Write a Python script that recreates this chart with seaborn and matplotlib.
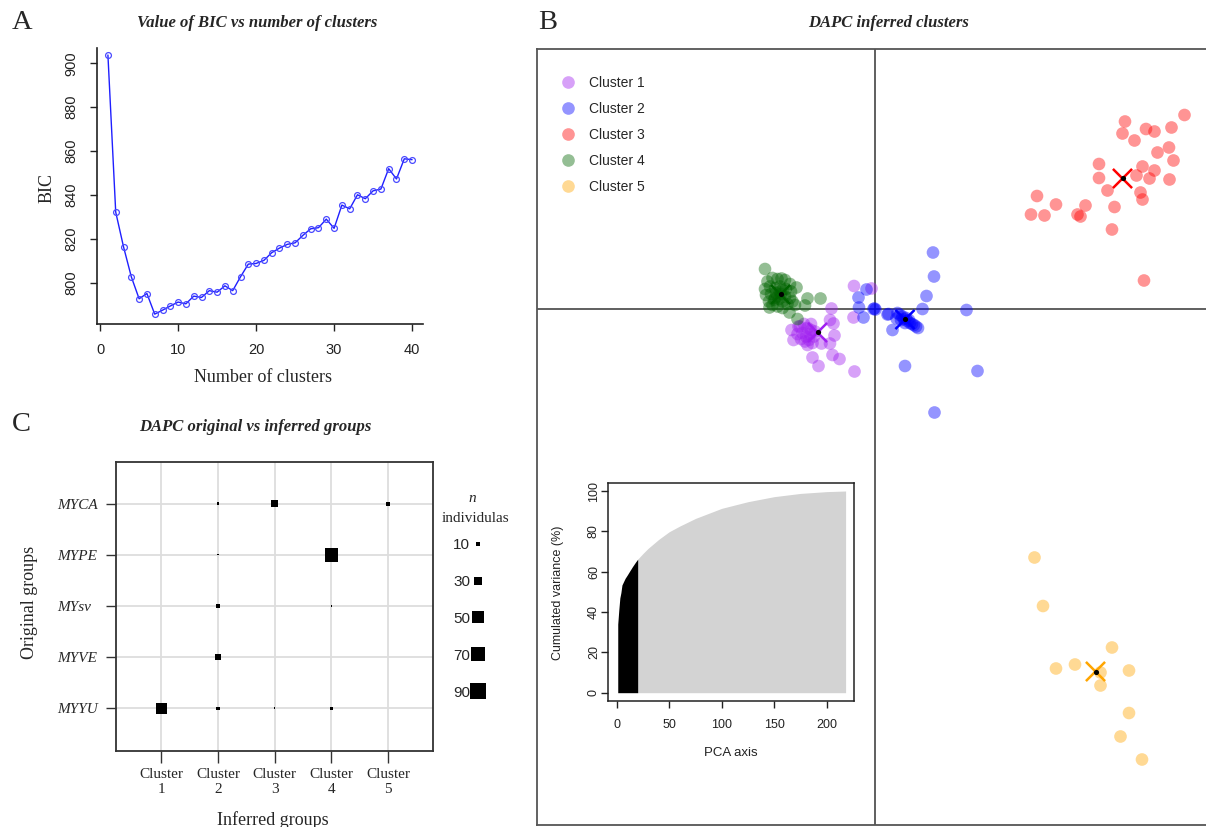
import numpy as np
import pandas as pd
import matplotlib
matplotlib.use("Agg")
import matplotlib.pyplot as plt
from matplotlib.lines import Line2D
import seaborn as sns

# ---------------- data ----------------
# Panel A: BIC vs number of clusters
n_clusters = [1, 2, 3, 4, 5, 6, 7, 8, 9, 10, 11, 12, 13, 14, 15, 16, 17, 18, 19, 20,
              21, 22, 23, 24, 25, 26, 27, 28, 29, 30, 31, 32, 33, 34, 35, 36, 37, 38, 39, 40]
bic = [903.8, 832.2, 816.4, 802.7, 792.7, 795.1, 785.7, 787.5, 789.4, 791.2,
       790.4, 793.9, 793.3, 796.4, 795.7, 798.6, 796.4, 802.7, 808.5, 808.8,
       810.2, 813.7, 815.8, 817.5, 818.2, 821.6, 824.6, 825.1, 829.0, 824.8,
       835.4, 833.7, 840.1, 838.3, 841.9, 842.7, 852.0, 847.3, 856.5, 856.1]

# Panel B: DAPC scatter (discriminant functions 1 and 2)
cluster_labels = ["Cluster 1", "Cluster 2", "Cluster 3", "Cluster 4", "Cluster 5"]
cluster_colors = ["#A020F0", "#0000FF", "#FF0000", "#006400", "#FFA500"]

c1_ld1 = [-0.42, -0.07, -0.43, -0.87, -0.90, -0.83, -0.81, -1.67, -1.63, -1.07, -0.90,
          -1.25, -1.13, -0.85, -0.71, -0.41, -1.53, -1.50, -1.42, -1.35, -1.28, -1.45,
          -1.38, -1.30, -1.22, -1.48, -1.40, -1.32, -1.25, -1.35, -1.20, -1.55, -1.28]
c1_ld2 = [0.46, 0.41, -0.17, 0.01, -0.22, -0.29, -0.53, -0.42, -0.62, -0.69, -0.69,
          -0.97, -1.14, -0.92, -1.00, -1.25, -0.35, -0.35, -0.30, -0.38, -0.42, -0.48,
          -0.55, -0.50, -0.55, -0.60, -0.65, -0.62, -0.68, -0.72, -0.45, -0.50, -0.30]

c2_ld1 = [1.16, 1.18, 1.03, 0.95, 1.83, -0.17, -0.33, -0.32, -0.23, -0.03, -0.01,
          0.01, 0.25, 0.27, 0.43, 0.35, 0.60, 2.05, 1.19, 0.45, 0.50, 0.55,
          0.58, 0.62, 0.65, 0.68, 0.70, 0.74, 0.78, 0.82, 0.86, 0.60, 0.52]
c2_ld2 = [1.13, 0.65, 0.26, 0.00, -0.02, 0.39, 0.23, 0.03, -0.17, 0.00, 0.01,
          -0.01, -0.11, -0.10, -0.19, -0.42, -1.14, -1.24, -2.07, -0.08, -0.12, -0.15,
          -0.20, -0.18, -0.24, -0.22, -0.28, -0.30, -0.32, -0.35, -0.38, -0.28, -0.22]

c3_ld1 = [6.19, 5.00, 4.95, 5.42, 5.59, 5.93, 5.19, 5.65, 5.88, 5.97,
          4.48, 5.35, 5.59, 5.23, 5.49, 5.89, 4.48, 4.65, 5.31, 5.35,
          4.79, 3.24, 3.62, 3.12, 3.39, 4.21, 4.05, 4.11, 4.74, 5.38]
c3_ld2 = [3.88, 3.75, 3.51, 3.60, 3.55, 3.63, 3.37, 3.13, 3.23, 2.97,
          2.90, 2.85, 2.77, 2.67, 2.61, 2.59, 2.62, 2.37, 2.33, 2.19,
          2.04, 2.26, 2.09, 1.89, 1.87, 2.07, 1.89, 1.85, 1.59, 0.57]

c4_ld1 = [-2.20, -1.87, -1.57, -1.35, -1.09, -1.40, -2.11, -1.60, -1.71, -1.55,
          -2.15, -2.05, -1.95, -1.80, -1.70, -2.20, -2.10, -2.00, -1.90, -1.78,
          -1.68, -2.18, -2.08, -1.98, -1.88, -1.80, -1.70, -2.12, -2.02, -1.92,
          -1.85, -1.75, -2.05, -1.95, -1.85, -1.65, -1.90, -1.95, -1.85, -2.00]
c4_ld2 = [0.80, 0.61, 0.43, 0.21, 0.21, 0.07, 0.03, 0.08, -0.07, -0.20,
          0.55, 0.62, 0.60, 0.58, 0.50, 0.40, 0.45, 0.42, 0.45, 0.40,
          0.35, 0.28, 0.30, 0.32, 0.30, 0.25, 0.22, 0.15, 0.18, 0.20,
          0.15, 0.10, 0.08, 0.05, 0.02, 0.15, 0.35, 0.25, 0.38, 0.22]

c5_ld1 = [3.19, 3.36, 4.74, 3.62, 4.00, 4.51, 4.51, 5.08, 5.08, 4.91, 5.34]
c5_ld2 = [-4.97, -5.94, -6.77, -7.19, -7.11, -7.27, -7.53, -7.23, -8.08, -8.55, -9.01]

centroid_ld1 = [-1.15, 0.60, 4.95, -1.89, 4.41]
centroid_ld2 = [-0.47, -0.21, 2.61, 0.29, -7.25]

# Inset: cumulated variance of PCA axes
pca_axis = [1, 2, 3, 4, 5, 6, 8, 10, 12, 15, 18, 20,
            25, 30, 40, 50, 60, 75, 100, 125, 150, 175, 200, 218]
cum_var = [34.0, 41.0, 47.0, 49.6, 53.4, 54.5, 56.7, 58.3, 60.0, 62.5, 64.8, 66.2,
           69.0, 71.6, 76.0, 79.8, 82.6, 86.4, 91.4, 94.7, 97.2, 98.8, 99.7, 100.0]
n_pca_retained = 20

# Panel C: original vs inferred groups
orig_groups = ["MYCA", "MYPE", "MYsv", "MYVE", "MYYU"]
inferred_groups = ["Cluster\n1", "Cluster\n2", "Cluster\n3", "Cluster\n4", "Cluster\n5"]
counts_MYCA = [0, 5, 23, 0, 10]
counts_MYPE = [0, 2, 0, 67, 0]
counts_MYsv = [0, 9, 0, 2, 0]
counts_MYVE = [0, 15, 0, 0, 0]
counts_MYYU = [45, 7, 3, 7, 0]
legend_n = [10, 30, 50, 70, 90]

# ---------------- style ----------------
sns.set_theme(style="ticks")
SERIF = ["Liberation Serif", "DejaVu Serif"]
SANS = ["Liberation Sans", "DejaVu Sans"]
plt.rcParams["font.family"] = SANS

W, H = 1206, 827
fig = plt.figure(figsize=(W / 100, H / 100), dpi=100, facecolor="white")


def rect(l, t, r, b):
    return [l / W, 1 - b / H, (r - l) / W, (b - t) / H]


def fxy(x, y):
    return (x / W, 1 - y / H)


# ---------------- Panel A ----------------
axA = fig.add_axes(rect(97, 48, 423, 324))
dfA = pd.DataFrame({"k": n_clusters, "bic": bic})
sns.lineplot(data=dfA, x="k", y="bic", ax=axA, color="#1f1fff", linewidth=1.0,
             marker="o", markersize=4.2, markerfacecolor="none",
             markeredgecolor="#4a4aff", markeredgewidth=0.9)
axA.set_xlim(-0.4, 41.4)
axA.set_ylim(781.2, 907)
axA.set_xticks([0, 10, 20, 30, 40])
axA.set_yticks([800, 820, 840, 860, 880, 900])
axA.set_xlabel("")
axA.set_ylabel("")
for s in ["top", "right"]:
    axA.spines[s].set_visible(False)
for s in ["left", "bottom"]:
    axA.spines[s].set_linewidth(1.2)
    axA.spines[s].set_color("#222222")
axA.tick_params(axis="both", length=5, width=1.0, color="#222222",
                labelsize=10.5, labelcolor="#222222")
axA.tick_params(axis="x", pad=8.5)
axA.tick_params(axis="y", pad=8.5)
for lab in axA.get_yticklabels():
    lab.set_rotation(90)
    lab.set_va("center")

fig.text(*fxy(21.7, 29), "A", fontsize=20.5, family=SERIF, ha="center", va="baseline")
fig.text(*fxy(257, 27), "Value of BIC vs number of clusters", fontsize=12,
         family=SERIF, fontweight="bold", fontstyle="italic", ha="center", va="baseline")
fig.text(*fxy(47.5, 188), "BIC", rotation=90, fontsize=13, family=SERIF,
         ha="center", va="center")
fig.text(*fxy(263, 382), "Number of clusters", fontsize=13, family=SERIF,
         ha="center", va="baseline")

# ---------------- Panel B ----------------
axB = fig.add_axes(rect(537.3, 49.3, 1230, 824.7))
palette = dict(zip(cluster_labels, cluster_colors))
frames = []
for lab, xs, ys in zip(cluster_labels,
                       [c1_ld1, c2_ld1, c3_ld1, c4_ld1, c5_ld1],
                       [c1_ld2, c2_ld2, c3_ld2, c4_ld2, c5_ld2]):
    frames.append(pd.DataFrame({"LD1": xs, "LD2": ys, "cluster": lab}))
dfB = pd.concat(frames, ignore_index=True)
dfCent = pd.DataFrame({"LD1": centroid_ld1, "LD2": centroid_ld2, "cluster": cluster_labels})

axB.axhline(0, color="#444444", lw=1.2, zorder=1)
axB.axvline(0, color="#444444", lw=1.2, zorder=1)
sns.scatterplot(data=dfB, x="LD1", y="LD2", hue="cluster", palette=palette,
                s=83, alpha=0.42, linewidth=0, legend=False, ax=axB, zorder=2)
sns.scatterplot(data=dfCent, x="LD1", y="LD2", hue="cluster", palette=palette,
                marker="x", s=190, linewidth=1.8, legend=False, ax=axB, zorder=3)
sns.scatterplot(data=dfCent, x="LD1", y="LD2", color="black", marker="o",
                s=14, linewidth=0, legend=False, ax=axB, zorder=4)
axB.set_xlim(-6.754, 7.1)
axB.set_ylim(-10.314, 5.194)
axB.set_xticks([])
axB.set_yticks([])
axB.set_xlabel("")
axB.set_ylabel("")
for s in axB.spines.values():
    s.set_color("#555555")
    s.set_linewidth(1.3)

handlesB = [Line2D([], [], marker="o", ls="none", markersize=9.1,
                   markerfacecolor=c, markeredgewidth=0, alpha=0.42)
            for c in cluster_colors]
axB.legend(handlesB, cluster_labels, loc="upper left",
           bbox_to_anchor=fxy(557.3, 76), bbox_transform=fig.transFigure,
           frameon=False, fontsize=10, handlelength=1.5, handletextpad=0.8,
           labelspacing=0.86, borderpad=0, borderaxespad=0)

fig.text(*fxy(548, 29), "B", fontsize=20.5, family=SERIF, ha="center", va="baseline")
fig.text(*fxy(808, 26.7), "DAPC inferred clusters", fontsize=12, family=SERIF,
         fontweight="bold", fontstyle="italic", ha="left", va="baseline")

# ---------------- Inset ----------------
axI = fig.add_axes(rect(608.3, 483, 854, 700.7))
pcs = np.array(pca_axis, dtype=float)
cv = np.array(cum_var, dtype=float)
grey_part = pcs >= n_pca_retained
black_part = pcs <= n_pca_retained
axI.fill_between(pcs[grey_part], cv[grey_part], 0, color="#D3D3D3", lw=0)
axI.fill_between(pcs[black_part], cv[black_part], 0, color="black", lw=0)
axI.set_xlim(-8, 226)
axI.set_ylim(-3.97, 103.97)
axI.set_xticks([0, 50, 100, 150, 200])
axI.set_yticks([0, 20, 40, 60, 80, 100])
for s in axI.spines.values():
    s.set_color("#222222")
    s.set_linewidth(1.1)
axI.tick_params(axis="both", length=5, width=1.0, color="#222222",
                labelsize=9, labelcolor="#222222")
axI.tick_params(axis="x", pad=8.5)
axI.tick_params(axis="y", pad=1)
for lab in axI.get_yticklabels():
    lab.set_rotation(90)
    lab.set_va("center")
fig.text(*fxy(558, 592.5), "Cumulated variance (%)", rotation=90, fontsize=9,
         ha="center", va="center", color="#222222")
fig.text(*fxy(731, 756), "PCA axis", fontsize=9.5, ha="center", va="baseline",
         color="#222222")

# ---------------- Panel C ----------------
axC = fig.add_axes(rect(116, 462.3, 433.3, 751))
rows = [counts_MYCA, counts_MYPE, counts_MYsv, counts_MYVE, counts_MYYU]
recs = []
for i, row in enumerate(rows):
    for j, n in enumerate(row):
        if n > 0:
            recs.append({"inferred": j + 1, "original": len(orig_groups) - i, "n": n})
dfC = pd.DataFrame(recs)


def side_px(n):
    return np.clip(1.8 * np.sqrt(np.asarray(n, dtype=float)) - 1.4, 0.9, None)


sns.scatterplot(data=dfC, x="inferred", y="original", marker="s",
                s=(side_px(dfC["n"].values) * 0.72) ** 2, color="black",
                linewidth=0, legend=False, ax=axC, zorder=3)
axC.set_xlim(0.201, 5.80)
axC.set_ylim(0.165, 5.81)
axC.set_xticks([1, 2, 3, 4, 5])
axC.set_xticklabels(inferred_groups, family=SERIF, fontsize=11, linespacing=1.2)
axC.set_yticks([1, 2, 3, 4, 5])
axC.set_yticklabels(orig_groups[::-1], family=SERIF, fontsize=11,
                    fontstyle="italic", ha="left")
axC.set_xlabel("")
axC.set_ylabel("")
axC.grid(True, color="#DDDDDD", lw=1.3)
axC.set_axisbelow(True)
for s in axC.spines.values():
    s.set_color("#333333")
    s.set_linewidth(1.3)
axC.tick_params(axis="x", length=8.4, width=1.0, color="#333333", pad=3.5)
axC.tick_params(axis="y", length=7.2, width=1.0, color="#333333", pad=35)

handlesC = [Line2D([], [], marker="s", ls="none", color="black",
                   markersize=float(side_px(n)) * 0.72, markeredgewidth=0)
            for n in legend_n]
axC.legend(handlesC, [str(n) for n in legend_n], loc="upper left",
           bbox_to_anchor=fxy(453, 538), bbox_transform=fig.transFigure,
           markerfirst=False, frameon=False, fontsize=11, handlelength=0.7,
           handletextpad=0.2, labelspacing=1.5, borderpad=0, borderaxespad=0)

fig.text(*fxy(21.7, 431), "C", fontsize=20.5, family=SERIF, ha="center", va="baseline")
fig.text(*fxy(255, 430.7), "DAPC original vs inferred groups", fontsize=12,
         family=SERIF, fontweight="bold", fontstyle="italic", ha="center", va="baseline")
fig.text(*fxy(29, 602.5), "Original groups", rotation=90, fontsize=13, family=SERIF,
         ha="center", va="center")
fig.text(*fxy(273, 825), "Inferred groups", fontsize=13, family=SERIF,
         ha="center", va="baseline")
fig.text(*fxy(472.7, 501.7), "n", fontsize=11, family=SERIF, fontstyle="italic",
         ha="center", va="baseline")
fig.text(*fxy(475.3, 521.7), "individulas", fontsize=11, family=SERIF,
         ha="center", va="baseline")

fig.savefig("out.png", dpi=100, facecolor="white")
